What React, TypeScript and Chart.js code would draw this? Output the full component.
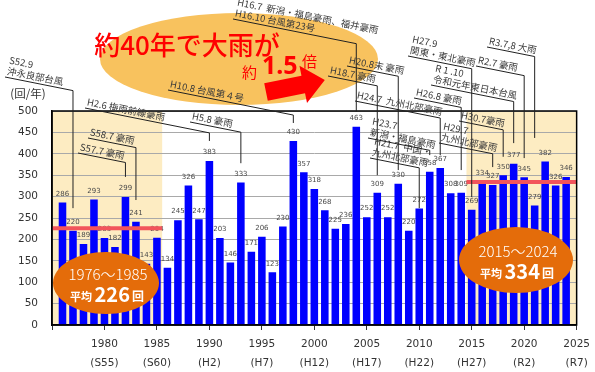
import React, { useEffect, useRef } from 'react';
import { Chart, registerables } from 'chart.js';

Chart.register(...registerables);

// ---- data ----
const years = [
  1976, 1977, 1978, 1979, 1980, 1981, 1982, 1983, 1984, 1985,
  1986, 1987, 1988, 1989, 1990, 1991, 1992, 1993, 1994, 1995,
  1996, 1997, 1998, 1999, 2000, 2001, 2002, 2003, 2004, 2005,
  2006, 2007, 2008, 2009, 2010, 2011, 2012, 2013, 2014, 2015,
  2016, 2017, 2018, 2019, 2020, 2021, 2022, 2023, 2024,
];
const counts = [
  286, 220, 189, 293, 203, 182, 299, 241, 143, 204,
  134, 245, 326, 247, 383, 203, 146, 333, 171, 206,
  123, 230, 430, 357, 318, 268, 225, 236, 463, 252,
  309, 252, 330, 220, 272, 358, 367, 308, 309, 269,
  334, 327, 350, 377, 345, 279, 382, 326, 346,
];
const tickYears = [1975, 1980, 1985, 1990, 1995, 2000, 2005, 2010, 2015, 2020, 2025];
const eraLabels = ['', '(S55)', '(S60)', '(H2)', '(H7)', '(H12)', '(H17)', '(H22)', '(H27)', '(R2)', '(R7)'];
const periodStart = [1976, 2015];
const periodEnd = [1985, 2024];
const periodLabels = ['1976～1985', '2015～2024'];
const periodAverages = [226, 334];
const yUnit = '(回/年)';
const headline = '約40年で大雨が';
const headlineRatio = '1.5';

// events: text lines, target year, end of leader (value units); layout offsets separate
const eventLines: string[][] = [
  ['S52.9', '沖永良部台風'],
  ['S57.7 豪雨'],
  ['S58.7 豪雨'],
  ['H2.6 梅雨前線豪雨'],
  ['H5.8 豪雨'],
  ['H10.8 台風第４号'],
  ['H16.7  新潟・福島豪雨、福井豪雨', 'H16.10 台風第23号'],
  ['H18.7 豪雨'],
  ['H20.8末 豪雨'],
  ['H21.7  中国・', '九州北部豪雨'],
  ['H23.7', '新潟・福島豪雨'],
  ['H24.7  九州北部豪雨'],
  ['H26.8 豪雨'],
  ['H27.9', '関東・東北豪雨'],
  ['R 1 .10', '令和元年東日本台風'],
  ['R2.7 豪雨'],
  ['R3.7,8 大雨'],
  ['H29.7', '九州北部豪雨'],
  ['H30.7豪雨'],
];
const eventYears = [1977, 1982, 1983, 1990, 1993, 1998, 2004, 2006, 2008, 2010, 2011, 2012, 2014, 2015, 2019, 2020, 2021, 2017, 2018];
const eventLeaderEnd = [273, 346, 292, 430, 378, 472, 498, 350, 362, 273, 397, 397, 362, 299, 425, 390, 437, 369, 393];

// layout (pixel) start points of each event underline
const eventTextPos: [number, number][] = [
  [5, 77], [78, 153], [88, 138], [85, 108], [190, 122], [168, 90], [233, 19],
  [328, 76], [347, 66], [370, 158], [368, 138], [355, 101], [414, 98], [408, 56],
  [431, 85], [476, 66], [487, 47], [439, 143], [459, 121],
];

const JP = "'Noto Sans CJK JP', 'Noto Sans', sans-serif";
const NUM = "'DejaVu Sans', sans-serif";

const overlayPlugin = {
  id: 'overlay',
  beforeDraw(chart: any) {
    const { ctx, chartArea, scales } = chart;
    const x = scales.x;
    ctx.save();
    ctx.fillStyle = '#ffffff';
    ctx.fillRect(0, 0, chart.width, chart.height);
    ctx.fillStyle = '#fdecc2';
    periodStart.forEach((s, i) => {
      const a = i === 0 ? x.min : s - 0.5;
      const b = i === periodStart.length - 1 ? x.max : periodEnd[i] + 0.5;
      const pa = x.getPixelForValue(a);
      const pb = x.getPixelForValue(b);
      ctx.fillRect(pa, chartArea.top, pb - pa, chartArea.bottom - chartArea.top);
    });
    ctx.restore();
  },
  afterDatasetsDraw(chart: any) {
    const { ctx, chartArea, scales } = chart;
    const x = scales.x;
    const y = scales.y;
    ctx.save();

    // value labels
    ctx.fillStyle = '#4a4a4a';
    ctx.font = `7px ${NUM}`;
    ctx.textAlign = 'center';
    ctx.textBaseline = 'bottom';
    years.forEach((yr, i) => {
      ctx.fillText(String(counts[i]), x.getPixelForValue(yr), y.getPixelForValue(counts[i]) - 5);
    });

    // average lines
    ctx.strokeStyle = '#f2545b';
    ctx.lineWidth = 4;
    periodStart.forEach((s, i) => {
      const a = i === 0 ? x.min : s - 0.5;
      const b = i === periodStart.length - 1 ? x.max : periodEnd[i] + 0.5;
      const py = y.getPixelForValue(periodAverages[i]);
      ctx.beginPath();
      ctx.moveTo(x.getPixelForValue(a), py);
      ctx.lineTo(x.getPixelForValue(b), py);
      ctx.stroke();
    });

    // frame
    ctx.strokeStyle = '#000';
    ctx.lineWidth = 1.5;
    ctx.strokeRect(chartArea.left, chartArea.top, chartArea.right - chartArea.left, chartArea.bottom - chartArea.top);

    // period ellipses
    const ell = [
      { cx: 106, cy: 283, rx: 53, ry: 31 },
      { cx: 516, cy: 260, rx: 57, ry: 33 },
    ];
    ell.forEach((e, i) => {
      ctx.fillStyle = '#e46c0a';
      ctx.beginPath();
      ctx.ellipse(e.cx, e.cy, e.rx, e.ry, 0, 0, Math.PI * 2);
      ctx.fill();
      ctx.fillStyle = '#ffffff';
      ctx.textAlign = 'center';
      ctx.textBaseline = 'alphabetic';
      ctx.font = `300 15px ${JP}`;
      ctx.fillText(periodLabels[i], e.cx + 2, e.cy - 3);
      const p1 = '平均 ';
      const p2 = String(periodAverages[i]);
      const p3 = '回';
      const f1 = `bold 11px ${JP}`;
      const f2 = `bold 20px ${JP}`;
      const f3 = `bold 12px ${JP}`;
      ctx.font = f1; const w1 = ctx.measureText(p1).width;
      ctx.font = f2; const w2 = ctx.measureText(p2).width;
      ctx.font = f3; const w3 = ctx.measureText(p3).width;
      let sx = e.cx + 1 - (w1 + w2 + w3 + 2) / 2;
      const by = e.cy + 19;
      ctx.textAlign = 'left';
      ctx.font = f1; ctx.fillText(p1, sx, by - 1); sx += w1;
      ctx.font = f2; ctx.fillText(p2, sx, by); sx += w2 + 2;
      ctx.font = f3; ctx.fillText(p3, sx, by - 1);
    });

    // headline ellipse
    ctx.fillStyle = '#f8c25e';
    ctx.beginPath();
    ctx.ellipse(239, 59, 139, 46, 0, 0, Math.PI * 2);
    ctx.fill();

    ctx.fillStyle = '#ff0000';
    ctx.textAlign = 'center';
    ctx.textBaseline = 'middle';
    ctx.font = `500 26px ${JP}`;
    ctx.fillText(headline, 187, 45);
    ctx.textBaseline = 'alphabetic';
    ctx.textAlign = 'left';
    ctx.font = `15px ${JP}`;
    ctx.fillText('約', 242, 78);
    ctx.font = `bold 25px 'Noto Sans', sans-serif`;
    ctx.fillText(headlineRatio, 262, 74);
    ctx.font = `15px ${JP}`;
    ctx.fillText('倍', 302, 67);

    // arrow
    ctx.save();
    ctx.translate(266, 92);
    ctx.rotate(-0.2);
    ctx.fillStyle = '#ff0000';
    ctx.beginPath();
    ctx.moveTo(0, -9);
    ctx.lineTo(38, -9);
    ctx.lineTo(38, -19);
    ctx.lineTo(60, 0);
    ctx.lineTo(38, 19);
    ctx.lineTo(38, 9);
    ctx.lineTo(0, 9);
    ctx.closePath();
    ctx.fill();
    ctx.restore();

    // unit label
    ctx.fillStyle = '#333';
    ctx.font = `11.5px ${JP}`;
    ctx.textAlign = 'center';
    ctx.textBaseline = 'middle';
    ctx.fillText(yUnit, 28, 94);

    // event annotations
    const slope = 0.2;
    const ang = Math.atan(slope);
    eventLines.forEach((lines, i) => {
      const [sx, sy] = eventTextPos[i];
      const tx = x.getPixelForValue(eventYears[i]);
      const ty = sy + slope * (tx - sx);
      const ey = y.getPixelForValue(eventLeaderEnd[i]);
      ctx.strokeStyle = '#222';
      ctx.lineWidth = 1;
      ctx.beginPath();
      ctx.moveTo(sx, sy);
      ctx.lineTo(tx, ty);
      ctx.lineTo(tx, ey);
      ctx.stroke();
      ctx.save();
      ctx.translate(sx, sy);
      ctx.rotate(ang);
      ctx.fillStyle = '#3a3a3a';
      ctx.font = `9.5px ${JP}`;
      ctx.textAlign = 'left';
      ctx.textBaseline = 'alphabetic';
      const n = lines.length;
      lines.forEach((t, j) => {
        ctx.fillText(t, 1, -3 - (n - 1 - j) * 11);
      });
      ctx.restore();
    });

    ctx.restore();
  },
};

export default function App() {
  const ref = useRef<HTMLCanvasElement | null>(null);
  useEffect(() => {
    if (!ref.current) return;
    const chart = new Chart(ref.current, {
      type: 'bar',
      data: {
        datasets: [
          {
            label: '回数',
            data: years.map((yr, i) => ({ x: yr, y: counts[i] })),
            backgroundColor: '#0000ff',
            barPercentage: 0.72,
            categoryPercentage: 1,
          },
        ],
      },
      options: {
        responsive: false,
        animation: false,
        layout: { padding: { left: 0, top: 111, right: 18, bottom: 0 } },
        plugins: { legend: { display: false }, tooltip: { enabled: false }, title: { display: false } },
        scales: {
          x: {
            type: 'linear',
            min: 1975,
            max: 2025,
            offset: false,
            ticks: {
              stepSize: 5,
              autoSkip: false,
              maxRotation: 0,
              minRotation: 0,
              padding: 5,
              color: '#333',
              font: { family: 'DejaVu Sans', size: 10.5, lineHeight: 1.8 },
              callback: (v: any) => {
                const idx = tickYears.indexOf(Number(v));
                if (idx <= 0) return '';
                return [String(v), eraLabels[idx]];
              },
            },
            grid: { drawOnChartArea: false, drawTicks: true, tickLength: 5, color: '#333', offset: false },
            border: { display: true, color: '#000', width: 1.5 },
            afterFit: (s: any) => { s.height = 47; },
          } as any,
          y: {
            min: 0,
            max: 500,
            ticks: {
              stepSize: 50,
              padding: 14,
              color: '#333',
              font: { family: 'DejaVu Sans', size: 10.5 },
            },
            grid: { color: '#a9a9a9', drawTicks: false, lineWidth: 1 },
            border: { display: true, color: '#000', width: 1.5 },
            afterFit: (s: any) => { s.width = 52; },
          } as any,
        },
      },
      plugins: [overlayPlugin],
    });
    return () => chart.destroy();
  }, []);
  return (
    <div style={{ position: 'fixed', left: 0, top: 0, width: 595, height: 372, background: '#fff' }}>
      <canvas ref={ref} width={595} height={372} style={{ display: 'block' }} />
    </div>
  );
}
